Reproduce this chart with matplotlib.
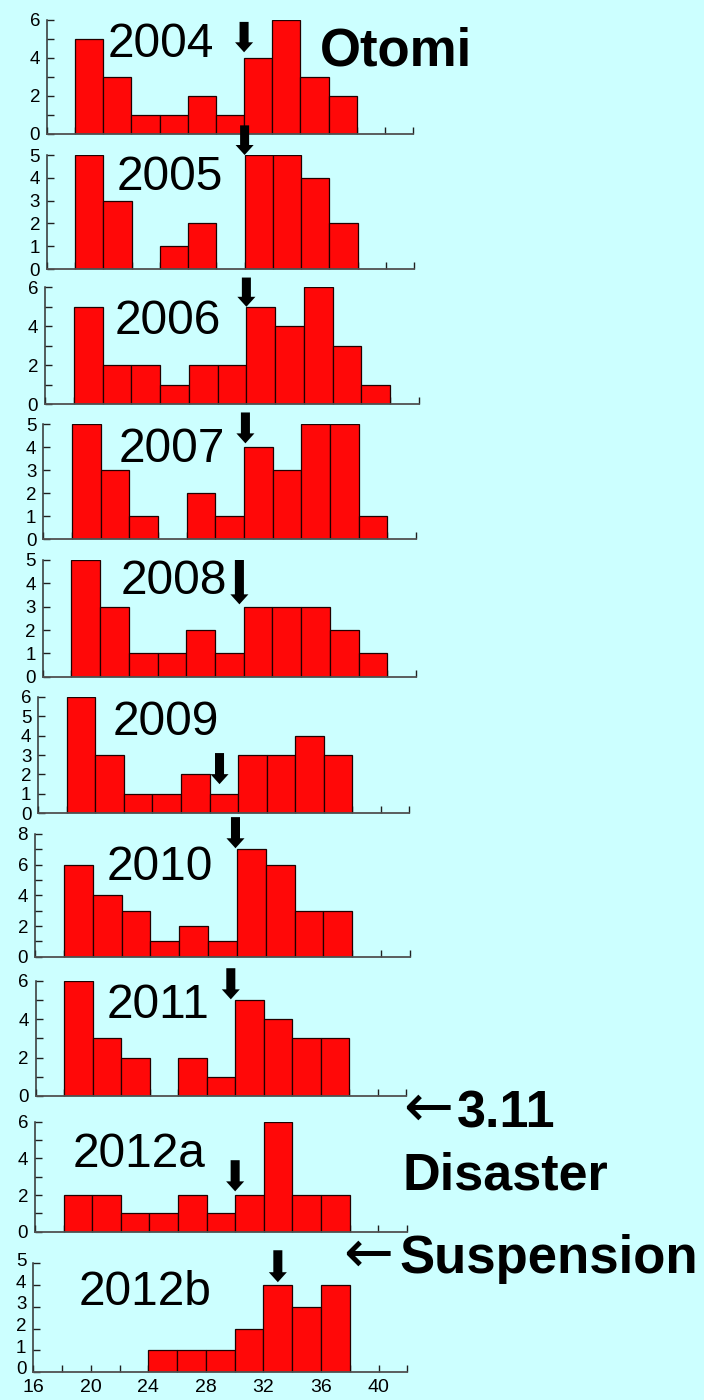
import matplotlib
matplotlib.use("Agg")
import matplotlib.pyplot as plt
import matplotlib.transforms as mtransforms
import numpy as np

plt.rcParams['font.family'] = ['Liberation Sans', 'DejaVu Sans']

# ---------------- data ----------------
years = ["2004", "2005", "2006", "2007", "2008", "2009", "2010", "2011", "2012a", "2012b"]
bin_width = 2
bin_starts = [18, 18, 18, 18, 18, 18, 18, 18, 18, 24]
counts_2004 = [5, 3, 1, 1, 2, 1, 4, 6, 3, 2]
counts_2005 = [5, 3, 0, 1, 2, 0, 5, 5, 4, 2]
counts_2006 = [5, 2, 2, 1, 2, 2, 5, 4, 6, 3, 1]
counts_2007 = [5, 3, 1, 0, 2, 1, 4, 3, 5, 5, 1]
counts_2008 = [5, 3, 1, 1, 2, 1, 3, 3, 3, 2, 1]
counts_2009 = [6, 3, 1, 1, 2, 1, 3, 3, 4, 3]
counts_2010 = [6, 4, 3, 1, 2, 1, 7, 6, 3, 3]
counts_2011 = [6, 3, 2, 0, 2, 1, 5, 4, 3, 3]
counts_2012a = [2, 2, 1, 1, 2, 1, 2, 6, 2, 2]
counts_2012b = [1, 1, 1, 2, 4, 3, 4]
all_counts = [counts_2004, counts_2005, counts_2006, counts_2007, counts_2008,
              counts_2009, counts_2010, counts_2011, counts_2012a, counts_2012b]
marker_x = [30, 30, 30, 30.1, 29.7, 28.7, 29.9, 29.7, 30, 33]
y_max = [6, 5, 6, 5, 5, 6, 8, 6, 6, 5]
y_label_step = [2, 1, 2, 1, 1, 1, 2, 2, 2, 1]
x_tick_labels = [16, 20, 24, 28, 32, 36, 40]

# ---------------- layout (pixels) ----------------
W, H = 704, 1400
BG = '#ccffff'
boxes = [  # left, right, top, bottom
    (47, 413, 20, 134),
    (47, 414, 155, 269),
    (45, 419, 287.3, 404.3),
    (43.3, 416, 424, 539.3),
    (42.7, 416, 560, 676.7),
    (38.3, 409.3, 696.7, 813.3),
    (35, 410, 834, 956.7),
    (35.7, 406, 980.7, 1096),
    (35, 406.7, 1121.7, 1231.7),
    (33.3, 407.3, 1263.3, 1372),
]
arrow_tip = [4.3, 5.0, 5.0, 4.16, 3.1, 1.5, 7.07, 5.03, 2.2, 4.13]
arrow_top = [5.9, 6.3, 6.5, 5.5, 5.0, 3.1, 9.1, 6.65, 3.9, 5.6]
label_pos = [(108, 57), (117, 190), (115, 334), (119, 461.7), (121, 594),
             (113, 735), (107, 880), (107, 1018), (73, 1167), (79, 1305)]

fig = plt.figure(figsize=(W / 100, H / 100), dpi=100)
fig.patch.set_facecolor(BG)


def fx(x):
    return x / W


def fy(y):
    return 1 - y / H


for i, yr in enumerate(years):
    l, r, t, b = boxes[i]
    ax = fig.add_axes([fx(l), fy(b), (r - l) / W, (b - t) / H])
    ax.set_facecolor('none')
    cnt = np.array(all_counts[i])
    lefts = bin_starts[i] + bin_width * np.arange(len(cnt))
    m = cnt > 0
    ax.bar(lefts[m], cnt[m], width=bin_width, align='edge',
           color='#ff0808', edgecolor='#200000', linewidth=0.9, zorder=2)
    ax.set_xlim(16, 42)
    ax.set_ylim(0, y_max[i])
    for s in ['top', 'right']:
        ax.spines[s].set_visible(False)
    ax.spines['left'].set_color('#303030')
    ax.spines['bottom'].set_color('#505050')
    ax.spines['left'].set_linewidth(1.1)
    ax.spines['bottom'].set_linewidth(1.3)
    ax.spines['left'].set_zorder(3)
    ax.spines['bottom'].set_zorder(3)
    ax.set_yticks(np.arange(0, y_max[i] + 1, y_label_step[i]))
    ax.set_yticks(np.arange(0, y_max[i] + 1, 1), minor=True)
    ax.tick_params(axis='y', which='both', direction='in', length=5, width=1.0,
                   color='#202020', labelsize=13.5, pad=5)
    if i == len(years) - 1:
        ax.set_xticks(x_tick_labels)
        ax.set_xticks(np.arange(16, 43, 2), minor=True)
        ax.tick_params(axis='x', which='both', direction='in', length=5, width=1.0,
                       color='#202020', labelsize=14, pad=5)
        off = mtransforms.ScaledTranslation(0, 4 / 100, fig.dpi_scale_trans)
        for lab in ax.get_yticklabels():
            lab.set_transform(lab.get_transform() + off)
    else:
        ax.set_xticks(np.arange(16, 43, 2))
        ax.tick_params(axis='x', which='both', direction='in', length=5, width=1.0,
                       color='#202020', labelbottom=False)
    ax.annotate('', xy=(marker_x[i], arrow_tip[i]), xytext=(marker_x[i], arrow_top[i]),
                arrowprops=dict(arrowstyle='simple,head_length=0.72,head_width=1.3,tail_width=0.65',
                                fc='black', ec='black', lw=0, shrinkA=0, shrinkB=0,
                                mutation_scale=10),
                annotation_clip=False, zorder=5)
    lx, ly = label_pos[i]
    fig.text(fx(lx), fy(ly), yr, fontsize=34.5, ha='left', va='baseline', color='black')

fig.text(fx(320), fy(66), 'Otomi', fontsize=38, fontweight='bold', ha='left', va='baseline')
fig.text(fx(403), fy(1126), '\u2190', fontsize=43, ha='left', va='baseline',
         family=['DejaVu Sans'])
fig.text(fx(457), fy(1127), '3.11', fontsize=37.5, fontweight='bold', ha='left', va='baseline')
fig.text(fx(403), fy(1190), 'Disaster', fontsize=37.5, fontweight='bold', ha='left', va='baseline')
fig.text(fx(343), fy(1272), '\u2190', fontsize=43, ha='left', va='baseline',
         family=['DejaVu Sans'])
fig.text(fx(399), fy(1273), 'Suspension', fontsize=38, fontweight='bold', ha='left', va='baseline')

fig.savefig('out.png', dpi=100, facecolor=BG)
